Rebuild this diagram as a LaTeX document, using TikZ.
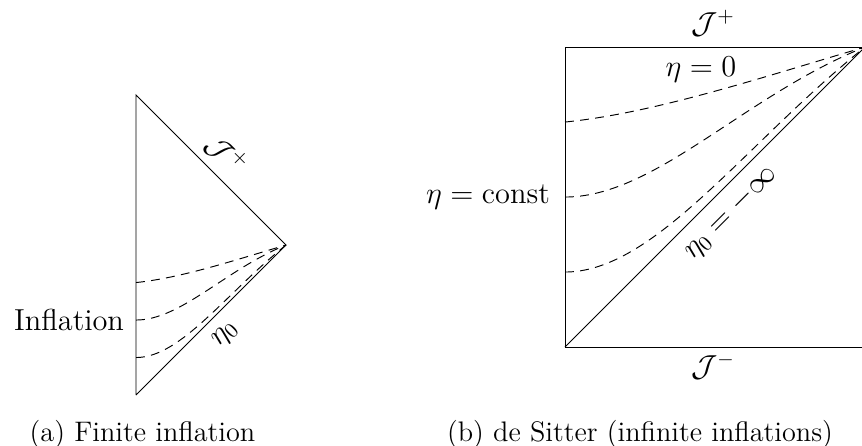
\RequirePackage{fix-cm}
\documentclass[tikz,border=0pt]{standalone}
\usepackage{amsmath}
\usepackage{amssymb}
\usepackage{xcolor}
\definecolor{LineBlack}{RGB}{0,0,0}
\usepackage{tikz}
\usetikzlibrary{positioning, calc}
\tikzset{
  % Boundary of the diagram
  bound/.style={draw=LineBlack, line width=0.45pt},
  % Constant-time slices
  slice/.style={draw=LineBlack, dash pattern=on 4.2pt off 3pt, line width=0.45pt},
  % Text labels
  lbl/.style={font=\fontsize{14.4}{17}\selectfont, inner sep=2pt},
  capt/.style={font=\fontsize{13.4}{16}\selectfont, anchor=base, inner sep=0pt},
}

\begin{document}
\begin{tikzpicture}
  \useasboundingbox (0,0) rectangle (14.367,7.417);

  % (a) Finite inflation
  \coordinate (aBot) at (2.267,0.833);
  \coordinate (aTop) at (2.267,5.833);
  \coordinate (aTip) at (4.767,3.333);
  \draw[bound] (aBot) -- (aTop)
    -- node[lbl, sloped, above=2pt] (aScriPlus) {$\mathcal{J}^+$} (aTip)
    -- node[lbl, sloped, below=3pt] (aEtaZero) {$\eta_0$} (aBot);
  \foreach \k/\d/\cx/\cy in {1/0/1.5/1.7, 2/0/1.5/2.1, 3/0.075/1.65/2.25}{
    \coordinate (aS\k) at ($(aBot)+(0,0.625*\k)$);
    \draw[slice] (aS\k) .. controls ($(aS\k)+(0.75,\d)$) and ($(aBot)+(\cx,\cy)$) .. (aTip);
  }
  \node[lbl, left=3.5pt of aS2] (aInfl) {Inflation};
  \node[capt] (aCap) at (2.375,0.067) {(a) Finite inflation};

  % (b) de Sitter
  \coordinate (bSW) at (9.417,1.633);
  \coordinate (bNW) at (9.417,6.633);
  \coordinate (bNE) at (14.417,6.633);
  \coordinate (bSE) at (14.417,1.633);
  \draw[bound] (bSW) -- (bNW) -- (bNE) -- (bSE) -- cycle;
  \draw[bound] (bSW) -- node[lbl, sloped, below=3pt] (bEtaInf) {$\eta_0 = -\infty$} (bNE);
  \foreach \k/\d/\cx/\cy in {1/0/3/3.4, 2/0/3/4.2, 3/0.15/3.3/4.5}{
    \coordinate (bS\k) at ($(bSW)+(0,1.25*\k)$);
    \draw[slice] (bS\k) .. controls ($(bS\k)+(1.5,\d)$) and ($(bSW)+(\cx,\cy)$) .. (bNE);
  }
  \node[lbl, left=5pt of bS2] (bConst) {$\eta = \text{const}$};
  \node[lbl] (bEtaNull) at (11.683,6.25) {$\eta = 0$};
  \node[lbl] (bScriPlus) at (11.883,7.033) {$\mathcal{J}^+$};
  \node[lbl] (bScriMinus) at (11.883,1.317) {$\mathcal{J}^-$};
  \node[capt] (bCap) at (10.667,0.067) {(b) de Sitter (infinite inflations)};
\end{tikzpicture}
\end{document}
